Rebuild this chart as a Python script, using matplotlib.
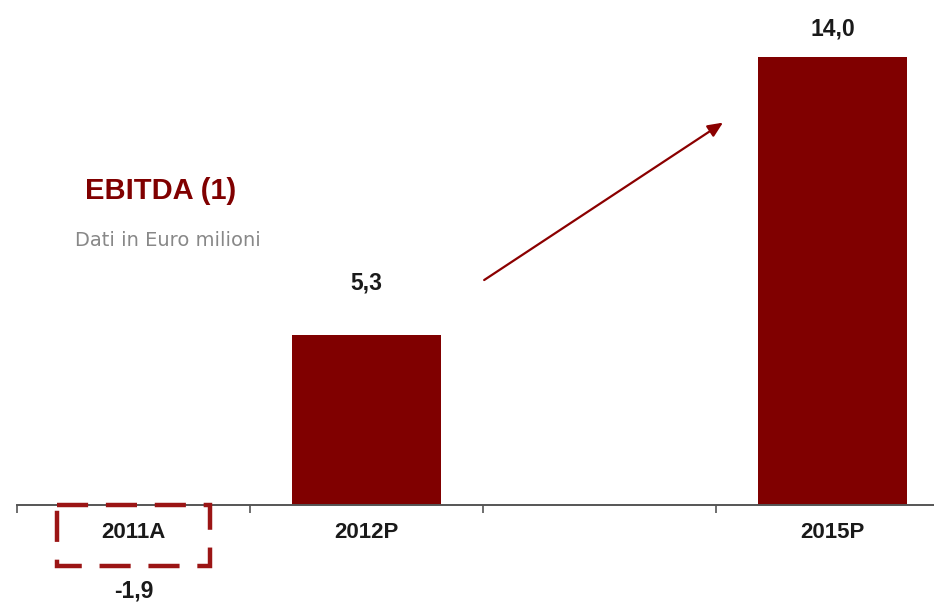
import matplotlib
matplotlib.use("Agg")
import matplotlib.pyplot as plt

categories = ["2011A", "2012P", "", "2015P"]
values = [-1.9, 5.3, None, 14.0]
value_labels = ["-1,9", "5,3", "", "14,0"]

red = "#800000"

fig = plt.figure(figsize=(9.34, 6.08), dpi=100)
ax = fig.add_axes([17 / 934, 0, 917 / 934, 1])
ax.set_xlim(-0.5, -0.5 + 917 / 233)
ax.set_ylim(-103 / 32, 505 / 32)

for i, v in enumerate(values):
    if v is None:
        continue
    if v < 0:
        # negative actual shown as a dashed outline
        ax.bar(i, v, width=0.66, fill=False, edgecolor="#9b1515", linewidth=3.2,
               linestyle=(0, (7, 4)), zorder=3)
    else:
        ax.bar(i, v, width=0.64, color=red, zorder=2)

# value labels
ax.text(0, -2.7, value_labels[0], ha="center", va="center", fontsize=16.5,
        fontweight="bold", family="Liberation Sans", color="#1a1a1a")
ax.text(1, 5.3 + 1.65, value_labels[1], ha="center", va="center", fontsize=16.5,
        fontweight="bold", family="Liberation Sans", color="#1a1a1a")
ax.text(3, 14.0 + 0.87, value_labels[3], ha="center", va="center", fontsize=16.5,
        fontweight="bold", family="Liberation Sans", color="#1a1a1a")

# category labels
for i, c in enumerate(categories):
    ax.text(i, -0.85, c, ha="center", va="center", fontsize=16,
            fontweight="bold", family="Liberation Sans", color="#1a1a1a")

for s in ["top", "right", "left"]:
    ax.spines[s].set_visible(False)
ax.spines["bottom"].set_position(("data", 0))
ax.spines["bottom"].set_color("#555555")
ax.spines["bottom"].set_linewidth(1.4)
ax.set_xticks([-0.5, 0.5, 1.5, 2.5])
ax.set_xticklabels([])
ax.tick_params(axis="x", direction="out", length=6, width=1.2, color="#555555")
ax.set_yticks([])

# title block
ax.text(-0.208, 9.8, "EBITDA (1)", ha="left", va="center", fontsize=21,
        fontweight="bold", family="Liberation Sans", color=red)
ax.text(-0.251, 8.28, "Dati in Euro milioni", ha="left", va="center",
        fontsize=14, family="DejaVu Sans", color="#888888")

# growth arrow
ax.annotate("", xy=(2.53, 11.95), xytext=(1.505, 7.03),
            arrowprops=dict(arrowstyle="-|>,head_length=0.9,head_width=0.4",
                            color="#8b0000", lw=1.6, shrinkA=0, shrinkB=0))

fig.savefig("out.png", dpi=100)
